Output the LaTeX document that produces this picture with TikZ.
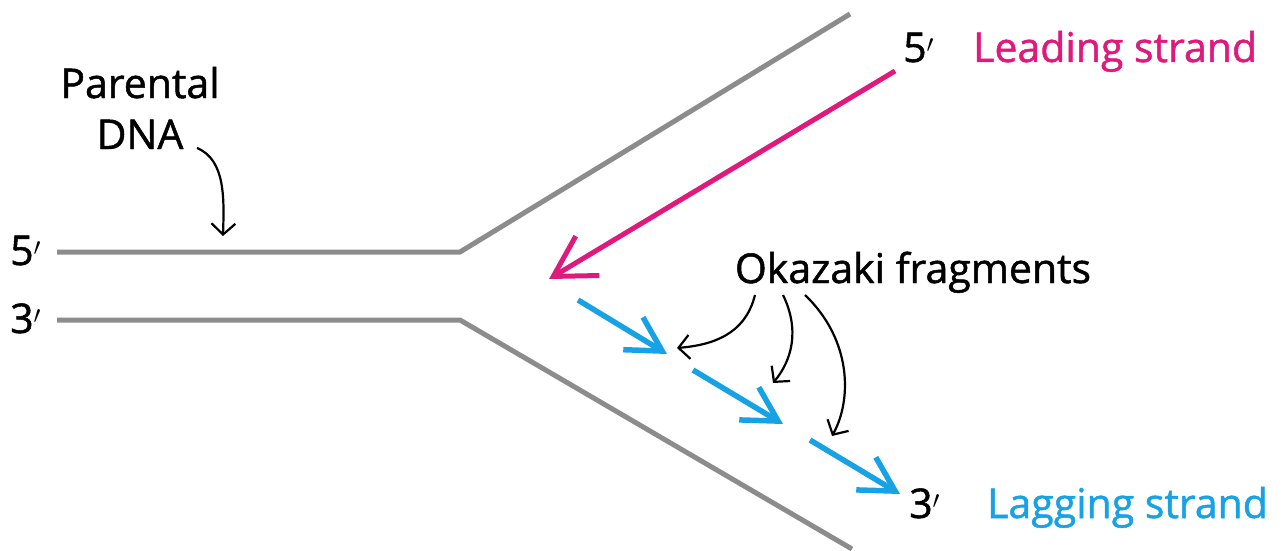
\documentclass[tikz,border=0pt]{standalone}
\usepackage{fontspec}
\setmainfont{Open Sans}[BoldFont={Open Sans},BoldFeatures={FakeBold=1.2}]
\usetikzlibrary{arrows.meta}
\definecolor{leadc}{HTML}{E0197D}
\definecolor{lagc}{HTML}{18A2E6}
\definecolor{dnac}{HTML}{8C8C8C}
\begin{document}
\begin{tikzpicture}[x=1pt,y=-1pt,
  strandline/.style={dnac,line width=5pt},
  leadarrow/.style={leadc,line width=5pt,-{Straight Barb[length=40pt,width=46pt]}},
  lagarrow/.style={lagc,line width=5.5pt,-{Straight Barb[length=34pt,width=38pt]}},
  pointer/.style={black,line width=2.2pt,-{Straight Barb[length=11pt,width=24pt]}},
  lbl/.style={inner sep=0pt,font=\fontsize{41}{52}\selectfont\bfseries},
]
\useasboundingbox (0,0) rectangle (1284,551);
% parental strands
\coordinate (a1) at (57,252);
\coordinate (a2) at (460,252);
\coordinate (a3) at (850,14);
\coordinate (b1) at (57,320);
\coordinate (b2) at (460,320);
\coordinate (b3) at (852,549);
\draw[strandline] (a1) -- (a2) -- (a3);
\draw[strandline] (b1) -- (b2) -- (b3);
% leading strand
\coordinate (ls) at (895,71);
\coordinate (le) at (549,279);
\draw[leadarrow] (ls) -- (le);
% lagging fragments
\coordinate (f1s) at (578,300);
\coordinate (f1e) at (667,354);
\coordinate (f2s) at (693,370);
\coordinate (f2e) at (783,424);
\coordinate (f3s) at (810,440);
\coordinate (f3e) at (900,494);
\draw[lagarrow] (f1s) -- (f1e);
\draw[lagarrow] (f2s) -- (f2e);
\draw[lagarrow] (f3s) -- (f3e);
% labels
\node[lbl,anchor=base west] (p5) at (10,265) {5$'$};
\node[lbl,anchor=base west] (p3) at (10,333) {3$'$};
\node[lbl,anchor=base] (par) at (140,98) {Parental};
\node[lbl,anchor=base] (dna) at (140,149) {DNA};
\node[lbl,anchor=base west] (t5) at (903,62) {5$'$};
\node[lbl,anchor=base west,text=leadc] (lead) at (973,62) {Leading strand};
\node[lbl,anchor=base west] (t3) at (909,518) {3$'$};
\node[lbl,anchor=base west,text=lagc] (lag) at (987,518) {Lagging strand};
\node[lbl,anchor=base] (oka) at (913,283) {Okazaki fragments};
% pointers
\coordinate (pdA) at (197,148);
\coordinate (pdB) at (223,236);
\draw[pointer] (pdA) .. controls (226,160) and (224,200) .. (pdB);
\coordinate (o1) at (755,295);
\coordinate (o2) at (783,295);
\coordinate (o3) at (805,295);
\coordinate (k1) at (677,348);
\coordinate (k2) at (773,383);
\coordinate (k3) at (832,436);
\draw[pointer] (o1) .. controls (745,335) and (712,345) .. (k1);
\draw[pointer] (o2) .. controls (800,330) and (792,360) .. (k2);
\draw[pointer] (o3) .. controls (852,340) and (852,400) .. (k3);
\end{tikzpicture}
\end{document}
